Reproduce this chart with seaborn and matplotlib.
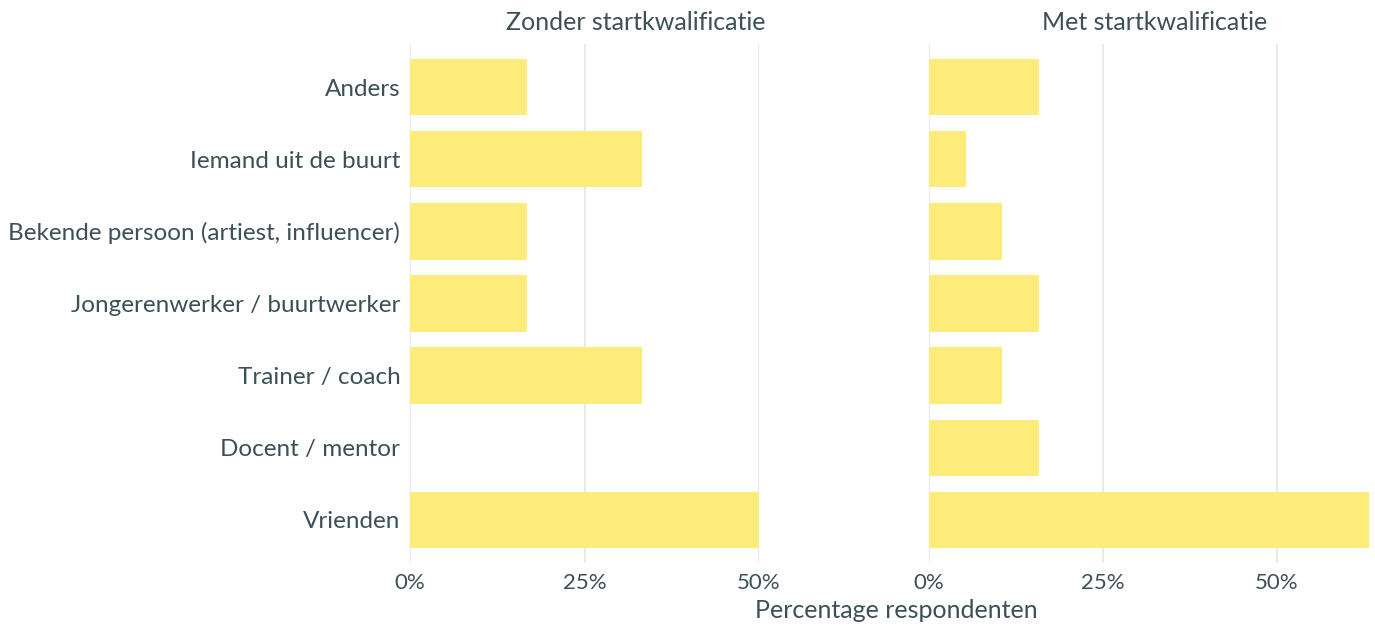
import matplotlib
matplotlib.use("Agg")
import matplotlib.pyplot as plt
import seaborn as sns
import pandas as pd

categories = ["Anders", "Iemand uit de buurt", "Bekende persoon (artiest, influencer)",
              "Jongerenwerker / buurtwerker", "Trainer / coach", "Docent / mentor", "Vrienden"]
zonder = [16.7, 33.3, 16.7, 16.7, 33.3, 0.0, 50.0]
met = [15.8, 5.3, 10.5, 15.8, 10.5, 15.8, 63.2]
panel_titles = ["Zonder startkwalificatie", "Met startkwalificatie"]
xticks = [0, 25, 50]
xticklabels = ["0%", "25%", "50%"]
xlabel = "Percentage respondenten"

sns.set_theme(style="white")
plt.rcParams['font.family'] = ['Lato', 'DejaVu Sans']

TXT = "#3c5057"
BAR = "#fdeb7a"
GRID = "#e3e3e3"

fig = plt.figure(figsize=(13.75, 6.26), dpi=100)
W, H = 1375, 626
top_px, bot_px = 44, 563
axL = fig.add_axes([410 / W, (H - bot_px) / H, 349 / W, (bot_px - top_px) / H])
axR = fig.add_axes([929 / W, (H - bot_px) / H, 440 / W, (bot_px - top_px) / H])

title_x = [636, 1155]
for ax, vals, title, tx in [(axL, zonder, panel_titles[0], title_x[0]),
                            (axR, met, panel_titles[1], title_x[1])]:
    df = pd.DataFrame({"cat": categories, "val": vals})
    sns.barplot(data=df, x="val", y="cat", order=categories, color=BAR,
                saturation=1, width=0.78, ax=ax)
    ax.set_xlim(0, max(vals))
    ax.set_ylim(len(categories) - 0.4, -0.6)
    ax.set_xticks(xticks)
    ax.set_xticklabels(xticklabels, fontsize=16, color=TXT)
    ax.grid(axis="x", color=GRID, linewidth=1.1, zorder=0)
    ax.set_axisbelow(True)
    for s in ax.spines.values():
        s.set_visible(False)
    ax.tick_params(axis="both", length=0, pad=7)
    ax.set_xlabel("")
    ax.set_ylabel("")
    fig.text(tx / W, 1 - 22 / H, title, ha="center", va="center", fontsize=18, color=TXT)
    for b in ax.patches:
        b.set_edgecolor("none")

axL.tick_params(axis="y", labelsize=17.5, labelcolor=TXT, pad=7)
axR.set_yticklabels([])

fig.text(896 / W, 1 - 610 / H, xlabel, ha="center", va="center", fontsize=18, color=TXT)

fig.savefig("out.png", dpi=100)
